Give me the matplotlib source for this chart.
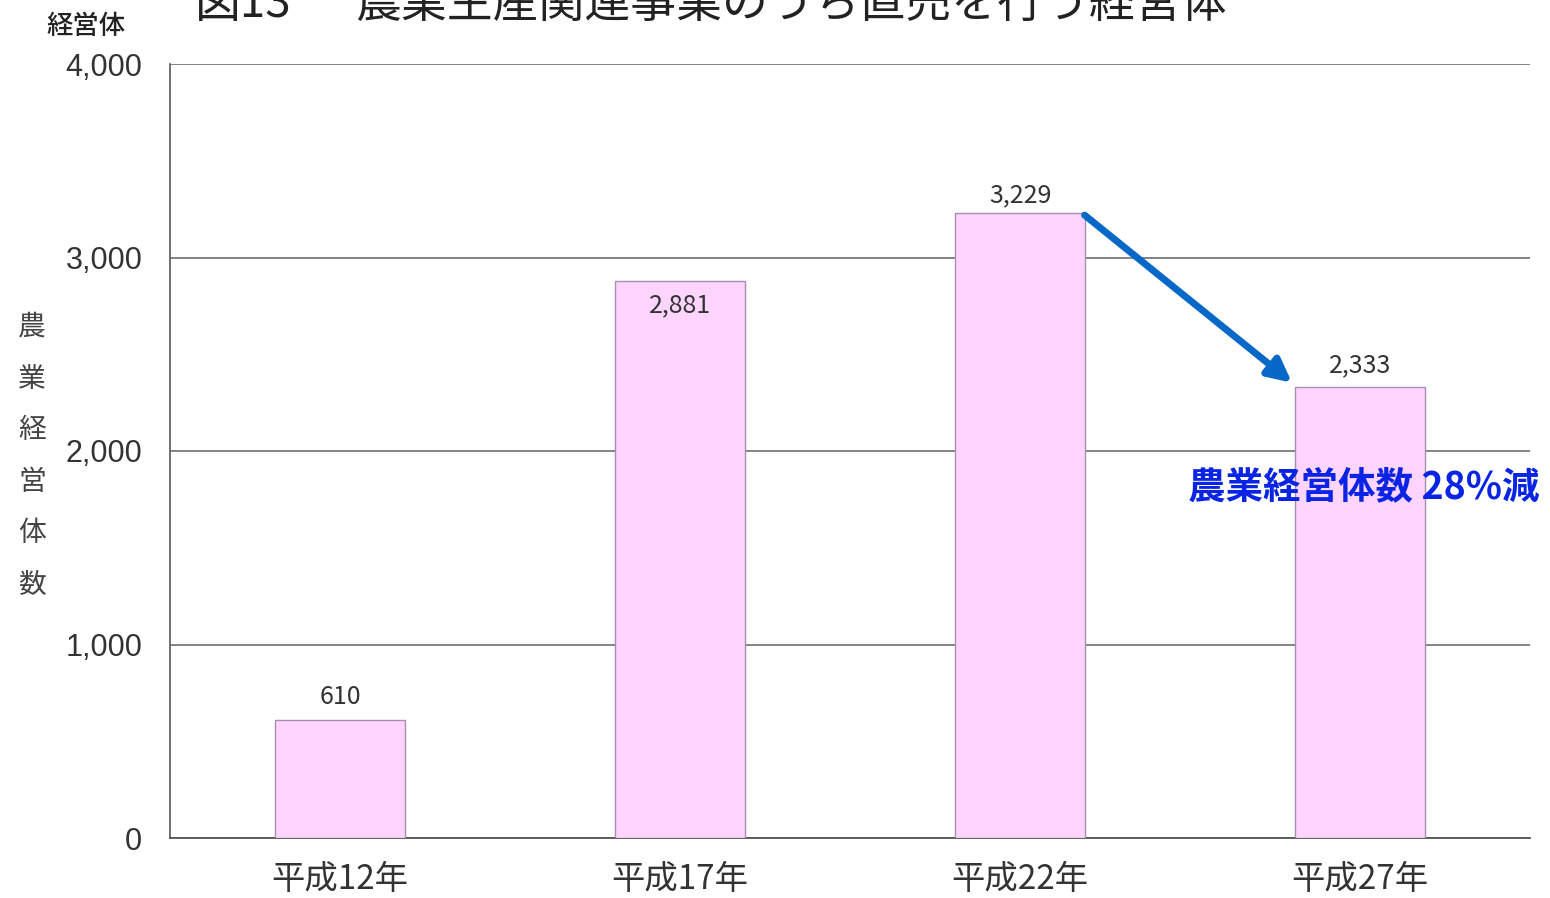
import matplotlib.pyplot as plt

# --- data ---
categories = ['平成12年', '平成17年', '平成22年', '平成27年']
counts = [610, 2881, 3229, 2333]
y_ticks = [0, 1000, 2000, 3000, 4000]
note_text = '農業経営体数 28%減'
y_title = '農業経営体数'

plt.rcParams['font.family'] = ['Noto Sans CJK JP', 'DejaVu Sans']

W, H = 1550, 898
fig = plt.figure(figsize=(W / 100, H / 100), dpi=100)
ax = fig.add_axes([170 / W, 1 - 838 / H, 1360 / W, (838 - 64) / H])

x = range(len(categories))
ax.bar(x, counts, width=0.385, color='#FFD5FF', edgecolor='#A58FB0', linewidth=1.0, zorder=3)

ax.set_xlim(-0.5, 3.5)
ax.set_ylim(0, 4000)
ax.set_yticks(y_ticks)
ax.set_yticklabels([f'{v:,}' for v in y_ticks], fontsize=22, color='#333333',
                   family=['Liberation Sans', 'DejaVu Sans'])
ax.set_xticks(list(x))
ax.set_xticklabels(categories, fontsize=24, color='#333333')
ax.tick_params(axis='both', length=0)
ax.tick_params(axis='y', pad=20)
ax.tick_params(axis='x', pad=17)

ax.grid(axis='y', color='#7a7a7a', linewidth=1.3, zorder=0)
for side in ['top', 'right']:
    ax.spines[side].set_visible(False)
ax.spines['left'].set_color('#666666')
ax.spines['left'].set_linewidth(1.3)
ax.spines['bottom'].set_color('#555555')
ax.spines['bottom'].set_linewidth(1.3)

# value labels (the second one sits inside the bar in the original)
label_offsets = [23, -25, 18, 21]
for i, v in enumerate(counts):
    ax.annotate(f'{v:,}', (i, v), xytext=(0, label_offsets[i]), textcoords='offset pixels',
                ha='center', va='center', fontsize=18, color='#333333', zorder=5)

# arrow showing the decrease
ax.annotate('', xy=(2.8, counts[3] + 20), xytext=(2.19, counts[2] - 10),
            arrowprops=dict(arrowstyle='-|>,head_length=1.4,head_width=0.7',
                            color='#0868C8', lw=5, shrinkA=0, shrinkB=0), zorder=6)
ax.text(3.01, 1815, note_text, ha='center', va='center', fontsize=27,
        fontweight='bold', color='#0A24E6', zorder=7)

# y axis title, one character per line
for k, ch in enumerate(y_title):
    fig.text(32 / W, 1 - (327 + 51.6 * k) / H, ch, ha='center', va='center',
             fontsize=20, color='#444444')

fig.text(86 / W, 1 - 26 / H, '経営体', ha='center', va='center',
         fontsize=19, fontweight='medium', color='#222222')

# title, cut off at the top in the source image
fig.text(195 / W, 1 - 17 / H, '図13', ha='left', va='baseline', fontsize=33, color='#222222')
fig.text(355 / W, 1 - 17 / H, '農業生産関連事業のうち直売を行う経営体', ha='left', va='baseline',
         fontsize=33, color='#222222')

plt.savefig('out.png', dpi=100)
